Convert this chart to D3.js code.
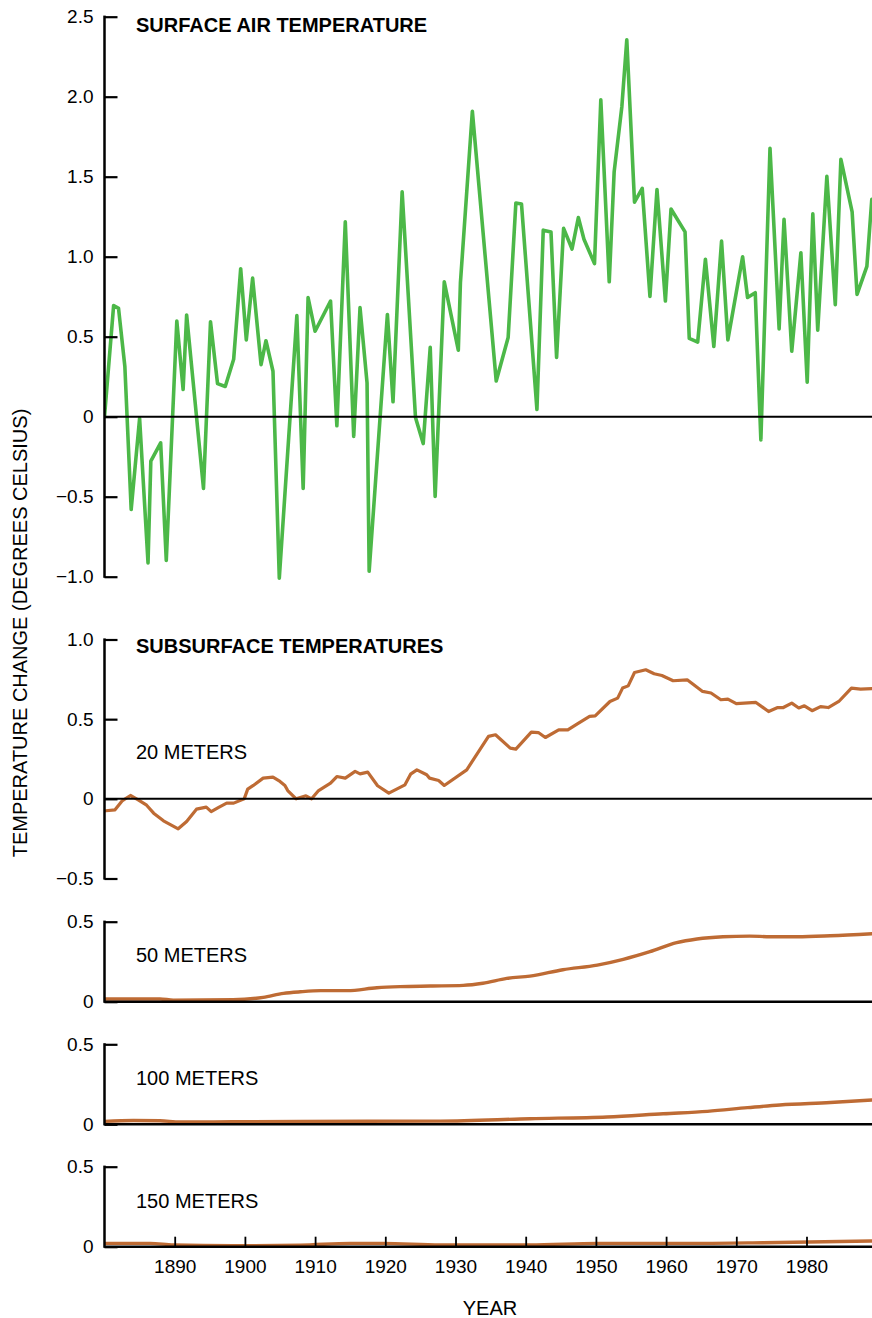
<!DOCTYPE html>
<html>
<head>
<meta charset="utf-8">
<script src="https://cdn.jsdelivr.net/npm/d3@7"></script>
<style>
  html, body { margin: 0; padding: 0; background: #fff; }
  svg { display: block; font-family: "Liberation Sans", Arial, Helvetica, sans-serif; }
</style>
</head>
<body>
<svg id="chart" width="872" height="1318"></svg>
<script>
// Surface air temperature anomaly (degrees C)
const airYears = [1880.0, 1881.3, 1882.0, 1882.9, 1883.8, 1885.0, 1886.2, 1886.6, 1888.0, 1888.8,
  1890.3, 1891.2, 1891.7, 1894.1, 1895.1, 1896.1, 1897.2, 1898.4, 1899.4, 1900.2,
  1901.1, 1902.3, 1903.0, 1904.0, 1904.9, 1907.4, 1908.3, 1909.0, 1910.0, 1912.2,
  1913.1, 1914.3, 1915.5, 1916.4, 1917.4, 1917.7, 1920.3, 1921.1, 1922.4, 1924.3,
  1925.4, 1926.4, 1927.1, 1928.4, 1930.4, 1930.7, 1932.4, 1935.8, 1937.5, 1938.6,
  1939.4, 1941.6, 1942.5, 1943.6, 1944.4, 1945.4, 1946.6, 1947.5, 1948.3, 1949.8,
  1950.7, 1951.9, 1952.6, 1953.7, 1954.4, 1955.5, 1956.6, 1957.7, 1958.7, 1959.9,
  1960.7, 1962.7, 1963.3, 1964.5, 1965.6, 1966.8, 1967.9, 1968.8, 1970.9, 1971.6,
  1972.7, 1973.5, 1974.8, 1976.1, 1976.8, 1977.9, 1979.2, 1980.1, 1980.9, 1981.6,
  1982.9, 1984.1, 1984.9, 1986.5, 1987.2, 1988.6, 1989.3];
const airValues = [0.0, 0.695, 0.677, 0.314, -0.58, -0.01, -0.914, -0.277, -0.164, -0.898,
  0.598, 0.17, 0.636, -0.448, 0.593, 0.207, 0.189, 0.359, 0.925, 0.48,
  0.866, 0.325, 0.475, 0.284, -1.009, 0.632, -0.448, 0.745, 0.534, 0.723,
  -0.057, 1.218, -0.123, 0.682, 0.211, -0.966, 0.639, 0.093, 1.405, -0.005,
  -0.168, 0.434, -0.498, 0.843, 0.416, 0.836, 1.909, 0.223, 0.495, 1.336,
  1.33, 0.045, 1.166, 1.155, 0.37, 1.177, 1.048, 1.245, 1.109, 0.957,
  1.98, 0.843, 1.53, 1.939, 2.355, 1.341, 1.427, 0.752, 1.42, 0.723,
  1.298, 1.155, 0.489, 0.466, 0.984, 0.439, 1.098, 0.48, 1.0, 0.745,
  0.775, -0.145, 1.677, 0.548, 1.234, 0.409, 1.025, 0.216, 1.268, 0.541,
  1.502, 0.7, 1.609, 1.28, 0.764, 0.939, 1.359];

// Subsurface temperature change at 20 m
const s20Years = [1880.2, 1881.5, 1882.5, 1883.7, 1884.8, 1886.0, 1887.0, 1888.4, 1890.5, 1891.7,
  1893.1, 1894.5, 1895.2, 1896.2, 1897.4, 1898.4, 1899.9, 1900.4, 1901.2, 1902.6,
  1904.0, 1905.0, 1905.7, 1906.1, 1907.3, 1908.7, 1909.5, 1910.5, 1912.2, 1913.1,
  1914.3, 1915.7, 1916.4, 1917.5, 1918.9, 1920.5, 1922.8, 1923.6, 1924.5, 1925.9,
  1926.3, 1927.6, 1928.4, 1931.6, 1934.7, 1935.7, 1937.8, 1938.6, 1940.8, 1941.8,
  1942.8, 1944.7, 1946.0, 1947.3, 1949.1, 1949.9, 1952.0, 1953.1, 1953.8, 1954.6,
  1955.5, 1957.1, 1958.3, 1959.4, 1961.0, 1963.0, 1965.2, 1966.4, 1967.8, 1968.8,
  1970.0, 1972.8, 1974.6, 1975.9, 1976.7, 1977.9, 1978.9, 1979.7, 1980.8, 1982.0,
  1983.1, 1984.6, 1986.4, 1987.7, 1989.4];
const s20Values = [-0.075, -0.069, -0.013, 0.021, -0.006, -0.04, -0.09, -0.138, -0.188, -0.142,
  -0.065, -0.052, -0.08, -0.055, -0.027, -0.027, 0.0, 0.061, 0.084, 0.13,
  0.136, 0.109, 0.084, 0.052, 0.0, 0.019, 0.0, 0.052, 0.098, 0.14,
  0.13, 0.172, 0.157, 0.168, 0.082, 0.036, 0.088, 0.155, 0.182, 0.151,
  0.13, 0.115, 0.084, 0.182, 0.392, 0.402, 0.318, 0.312, 0.419, 0.416,
  0.385, 0.433, 0.433, 0.469, 0.517, 0.521, 0.611, 0.632, 0.695, 0.709,
  0.793, 0.81, 0.785, 0.774, 0.741, 0.747, 0.674, 0.664, 0.622, 0.626,
  0.597, 0.605, 0.548, 0.573, 0.573, 0.601, 0.57, 0.584, 0.553, 0.579,
  0.573, 0.611, 0.695, 0.688, 0.692];

// Subsurface temperature change at 50 m
const s50Years = [1880, 1887.9, 1889.8, 1898.3, 1902.6, 1905.5, 1907.9, 1910.8, 1914.6, 1918.8,
  1922.1, 1926.4, 1931.1, 1933.9, 1937.3, 1940.6, 1945.3, 1950.2, 1953.9, 1957.7,
  1961.5, 1964.4, 1968.1, 1971.9, 1974.8, 1978.7, 1983.4, 1989.4];
const s50Values = [0.017, 0.017, 0.01, 0.012, 0.027, 0.052, 0.062, 0.069, 0.069, 0.087,
  0.094, 0.098, 0.102, 0.115, 0.146, 0.16, 0.2, 0.229, 0.265, 0.313,
  0.369, 0.392, 0.406, 0.41, 0.406, 0.406, 0.412, 0.425];

// Subsurface temperature change at 100 m
const s100Years = [1880, 1884.1, 1887.9, 1890.8, 1898.3, 1907.9, 1927.8, 1940.6, 1951.6, 1959.6,
  1965.9, 1971.6, 1976.2, 1983.4, 1989.4];
const s100Values = [0.018, 0.024, 0.022, 0.014, 0.016, 0.018, 0.02, 0.035, 0.046, 0.066,
  0.081, 0.104, 0.121, 0.136, 0.152];

// Subsurface temperature change at 150 m
const s150Years = [1880, 1886.5, 1889.8, 1898.3, 1907.9, 1915.0, 1919.7, 1927.8, 1940.6, 1950.2,
  1964.4, 1973.8, 1989.4];
const s150Values = [0.021, 0.021, 0.011, 0.006, 0.009, 0.021, 0.021, 0.011, 0.011, 0.021,
  0.021, 0.025, 0.036];

// Axis ticks
const xTickYears = [1890, 1900, 1910, 1920, 1930, 1940, 1950, 1960, 1970, 1980];
const airTicks = [-1.0, -0.5, 0, 0.5, 1.0, 1.5, 2.0, 2.5];
const s20Ticks = [-0.5, 0, 0.5, 1.0];
const deepTicks = [0, 0.5];

const GREEN = "#4cb848";
const BROWN = "#be6b34";
const FONT = '"Liberation Sans", Arial, Helvetica, sans-serif';

const svg = d3.select("#chart");
const xLeft = 104.5;
const x = d3.scaleLinear().domain([1880, 1990]).range([xLeft, 876.7]);
const xRight = 872;

const fmt = v => {
  if (v === 0) return "0";
  const s = d3.format(".1f")(Math.abs(v));
  return (v < 0 ? "\u2212" : "") + s;
};

const panels = [
  { key: "air", years: airYears, values: airValues, domain: [-1, 2.5], range: [576.7, 16.7], ticks: airTicks, color: GREEN, width: 3.6, curve: d3.curveLinear },
  { key: "s20", years: s20Years, values: s20Values, domain: [-0.5, 1.0], range: [878.5, 639.5], ticks: s20Ticks, color: BROWN, width: 3.2, curve: d3.curveLinear },
  { key: "s50", years: s50Years, values: s50Values, domain: [0, 0.5], range: [1001.7, 921.7], ticks: deepTicks, color: BROWN, width: 3.4, curve: d3.curveMonotoneX },
  { key: "s100", years: s100Years, values: s100Values, domain: [0, 0.5], range: [1124.3, 1044.3], ticks: deepTicks, color: BROWN, width: 3.4, curve: d3.curveMonotoneX },
  { key: "s150", years: s150Years, values: s150Values, domain: [0, 0.5], range: [1246.7, 1166.7], ticks: deepTicks, color: BROWN, width: 3.4, curve: d3.curveMonotoneX }
];

svg.append("defs").append("clipPath").attr("id", "plotclip")
  .append("rect").attr("x", xLeft).attr("y", 0).attr("width", xRight - xLeft).attr("height", 1318);

panels.forEach(p => {
  const y = d3.scaleLinear().domain(p.domain).range(p.range);
  const g = svg.append("g").attr("class", "panel-" + p.key);

  // data line (drawn first so the axis sits on top)
  const data = p.years.map((yr, i) => [yr, p.values[i]]);
  const line = d3.line().x(d => x(d[0])).y(d => y(d[1])).curve(p.curve);
  g.append("path")
    .datum(data)
    .attr("clip-path", "url(#plotclip)")
    .attr("d", line)
    .attr("fill", "none")
    .attr("stroke", p.color)
    .attr("stroke-width", p.width)
    .attr("stroke-linejoin", "round")
    .attr("stroke-linecap", "round");

  // zero reference line
  g.append("line")
    .attr("x1", xLeft).attr("x2", xRight)
    .attr("y1", y(0)).attr("y2", y(0))
    .attr("stroke", "#000")
    .attr("stroke-width", p.key === "air" || p.key === "s20" ? 2 : 2.4);

  // left axis with inward ticks and bracket caps
  const axis = d3.axisLeft(y)
    .tickValues(p.ticks)
    .tickSizeInner(-13)
    .tickSizeOuter(-13)
    .tickPadding(11)
    .tickFormat(fmt);
  const ag = g.append("g").attr("transform", `translate(${xLeft},0)`).call(axis);
  ag.select(".domain").remove();
  ag.selectAll(".tick line").attr("stroke", "#000").attr("stroke-width", 2.2);
  ag.selectAll(".tick text")
    .attr("fill", "#000")
    .style("font-family", FONT)
    .style("font-size", "19px");

  // vertical spine of the panel
  g.append("rect")
    .attr("x", xLeft - 1.25)
    .attr("y", y(p.domain[1]) - 1.1)
    .attr("width", 2.5)
    .attr("height", y(p.domain[0]) - y(p.domain[1]) + 2.2)
    .attr("fill", "#000");
});

// bottom year axis (ticks point up into the lowest panel)
const yBase = 1246.7;
const xAxis = d3.axisBottom(x)
  .tickValues(xTickYears)
  .tickSizeInner(-10)
  .tickSizeOuter(0)
  .tickPadding(13)
  .tickFormat(d3.format("d"));
const xg = svg.append("g").attr("transform", `translate(0,${yBase})`).call(xAxis);
xg.select(".domain").remove();
xg.selectAll(".tick line").attr("stroke", "#000").attr("stroke-width", 1.8);
xg.selectAll(".tick text")
  .attr("fill", "#000")
  .style("font-family", FONT)
  .style("font-size", "19px");

// panel headings and depth labels
const labels = [
  { text: "SURFACE AIR TEMPERATURE", y: 32, bold: true },
  { text: "SUBSURFACE TEMPERATURES", y: 653, bold: true },
  { text: "20 METERS", y: 759, bold: false },
  { text: "50 METERS", y: 962, bold: false },
  { text: "100 METERS", y: 1085, bold: false },
  { text: "150 METERS", y: 1208, bold: false }
];
svg.selectAll("text.label").data(labels).enter().append("text")
  .attr("class", "label")
  .attr("x", 136)
  .attr("y", d => d.y)
  .attr("fill", "#000")
  .style("font-family", FONT)
  .style("font-size", "20px")
  .style("font-weight", d => d.bold ? "bold" : "normal")
  .text(d => d.text);

// axis titles
svg.append("text")
  .attr("transform", "translate(27,633) rotate(-90)")
  .attr("text-anchor", "middle")
  .attr("fill", "#000")
  .style("font-family", FONT)
  .style("font-size", "20px")
  .text("TEMPERATURE CHANGE (DEGREES CELSIUS)");

svg.append("text")
  .attr("x", 490)
  .attr("y", 1315)
  .attr("text-anchor", "middle")
  .attr("fill", "#000")
  .style("font-family", FONT)
  .style("font-size", "20px")
  .text("YEAR");
</script>
</body>
</html>
